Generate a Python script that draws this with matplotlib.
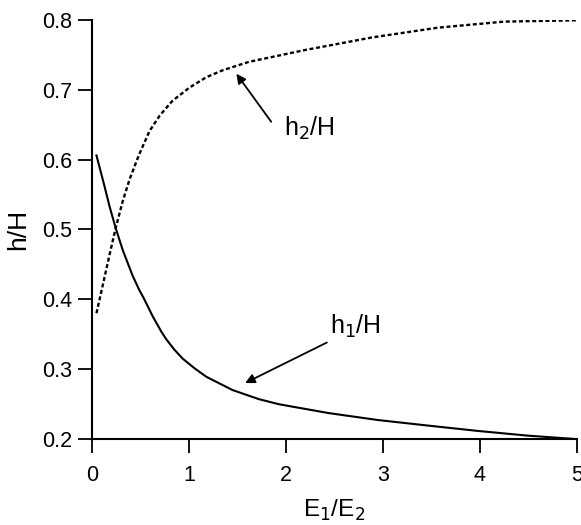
import numpy as np
import matplotlib
matplotlib.use("Agg")
import matplotlib.pyplot as plt

plt.rcParams['font.family'] = ['Liberation Sans', 'DejaVu Sans']

# h1/H curve (solid)
x_h1 = [0.048, 0.116, 0.185, 0.246, 0.32, 0.42, 0.49, 0.53, 0.63, 0.715, 0.766,
        0.85, 0.936, 1.06, 1.18, 1.45, 1.72, 1.93, 2.44, 2.95, 3.47, 3.98, 4.49, 4.97]
y_h1 = [0.606, 0.57, 0.532, 0.502, 0.47, 0.434, 0.413, 0.403, 0.375, 0.354, 0.343,
        0.328, 0.315, 0.301, 0.289, 0.27, 0.257, 0.2496, 0.237, 0.227, 0.219, 0.2114,
        0.2047, 0.200]

# h2/H curve (dashed)
x_h2 = [0.048, 0.116, 0.185, 0.246, 0.32, 0.39, 0.49, 0.595, 0.70, 0.83, 1.005,
        1.18, 1.35, 1.62, 2.20, 2.89, 3.57, 4.25, 5.0]
y_h2 = [0.38, 0.422, 0.465, 0.502, 0.541, 0.572, 0.608, 0.641, 0.663, 0.684, 0.703,
        0.718, 0.728, 0.740, 0.757, 0.775, 0.789, 0.7976, 0.7995]

xticks = [0, 1, 2, 3, 4, 5]
yticks = [0.2, 0.3, 0.4, 0.5, 0.6, 0.7, 0.8]

fig = plt.figure(figsize=(5.81, 5.25), dpi=100)
ax = fig.add_axes([0.158, 0.164, 0.835, 0.798])

ax.plot(x_h1, y_h1, color='black', lw=1.5, solid_joinstyle='round')
ax.plot(x_h2, y_h2, color='black', lw=1.7, linestyle=(0, (1.7, 1.1)))

ax.annotate(r'h$_1$/H', xy=(1.58, 0.28), xytext=(2.45, 0.342),
            fontsize=18, va='bottom', ha='left',
            arrowprops=dict(arrowstyle='-|>', color='black', lw=1.3,
                            mutation_scale=14, shrinkA=0, shrinkB=0,
                            relpos=(-0.05, -0.1)))
ax.annotate(r'h$_2$/H', xy=(1.49, 0.723), xytext=(1.98, 0.625),
            fontsize=18, va='bottom', ha='left',
            arrowprops=dict(arrowstyle='-|>', color='black', lw=1.3,
                            mutation_scale=14, shrinkA=0, shrinkB=0,
                            relpos=(-0.25, 0.75)))

ax.set_xlim(0, 5)
ax.set_ylim(0.2, 0.8)
ax.set_xticks(xticks)
ax.set_yticks(yticks)
ax.set_xticklabels([str(t) for t in xticks])
ax.set_yticklabels(['%.1f' % t for t in yticks])
ax.tick_params(direction='out', length=10, width=1.3, labelsize=15.5, pad=4)
ax.tick_params(axis='x', pad=9)

for s in ['top', 'right']:
    ax.spines[s].set_visible(False)
for s in ['left', 'bottom']:
    ax.spines[s].set_linewidth(1.5)

ax.set_xlabel(r'E$_1$/E$_2$', fontsize=17.5, labelpad=8)
ax.set_ylabel('h/H', fontsize=19, labelpad=9)

fig.savefig('out.png', dpi=100)
